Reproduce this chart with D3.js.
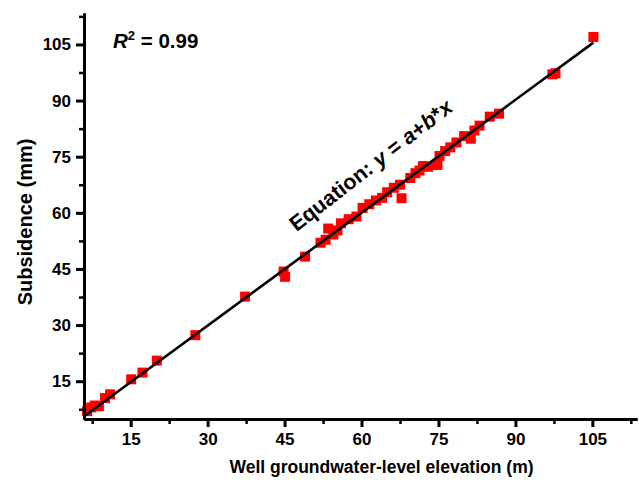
<!DOCTYPE html>
<html>
<head>
<meta charset="utf-8">
<script src="https://cdn.jsdelivr.net/npm/d3@7/dist/d3.min.js"></script>
<style>
  html, body { margin: 0; padding: 0; background: #fff; }
  svg { display: block; }
  text { font-family: "Liberation Sans", Arial, sans-serif; font-weight: bold; fill: #000; }
</style>
</head>
<body>
<script>
// ---- Data ----
const wellLevel = [6.5, 7.3, 8.0, 8.8, 10.0, 11.0, 15.1, 17.3, 20.1, 27.6, 37.3, 44.8, 45.1, 49.0,
  52.0, 53.0, 53.5, 54.5, 55.3, 56.0, 57.5, 59.0, 60.2, 61.5, 62.8, 64.0, 65.0, 66.3, 67.8, 67.5, 69.5,
  70.5, 71.3, 72.0, 73.0, 74.8, 75.2, 76.3, 77.3, 78.5, 80.0, 81.3, 82.0, 83.0, 85.0, 86.8, 97.2, 97.8, 105.2];
const subsidence = [7.0, 8.0, 8.5, 8.3, 10.5, 11.5, 15.5, 17.3, 20.5, 27.3, 37.6, 44.3, 42.9, 48.3,
  52.0, 52.8, 55.8, 54.2, 55.3, 57.2, 58.3, 59.0, 61.3, 62.3, 63.3, 64.0, 65.5, 66.7, 63.9, 67.5, 69.3,
  70.6, 71.3, 72.5, 72.3, 72.8, 75.2, 76.5, 77.5, 78.8, 80.5, 79.8, 82.0, 83.3, 85.7, 86.5, 97.0, 97.3, 107.0];
const fitA = -0.34, fitB = 1.006;
const fitRange = [6.0, 105.2];
const majorTicks = [15, 30, 45, 60, 75, 90, 105];
const minorTicks = [7.5, 22.5, 37.5, 52.5, 67.5, 82.5, 97.5, 112.5];
const xDomain = [5.9, 113.7];
const yDomain = [4.9, 113.4];
const xTitle = "Well groundwater-level elevation (m)";
const yTitle = "Subsidence (mm)";

const W = 639, H = 480;
const svg = d3.select("body").append("svg").attr("width", W).attr("height", H);

const x = d3.scaleLinear().domain(xDomain).range([84, 637]);
const y = d3.scaleLinear().domain(yDomain).range([419, 13]);

// points
const pts = wellLevel.map((v, i) => ({x: v, y: subsidence[i]}));
const ms = 10;
svg.append("g").selectAll("rect").data(pts).join("rect")
  .attr("x", d => x(d.x) - ms / 2).attr("y", d => y(d.y) - ms / 2)
  .attr("width", ms).attr("height", ms).attr("fill", "#ff0000");

// fit line
const fitPts = fitRange.map(v => [v, fitA + fitB * v]);
svg.append("path").attr("d", d3.line().x(d => x(d[0])).y(d => y(d[1]))(fitPts))
  .attr("stroke", "#000").attr("stroke-width", 2.6).attr("fill", "none");

// axes
function styleAxis(g, w) {
  g.selectAll("path.domain").attr("stroke", "#000").attr("stroke-width", 3);
  g.selectAll(".tick line").attr("stroke", "#000").attr("stroke-width", w);
  g.selectAll(".tick text").style("font-size", "17px").style("font-family", "'Liberation Sans', Arial, sans-serif").style("font-weight", "bold");
}
// minor
svg.append("g").attr("transform", "translate(0,419)")
  .call(d3.axisBottom(x).tickValues(minorTicks).tickSize(5).tickSizeOuter(0).tickFormat(""))
  .call(g => styleAxis(g, 2.5));
svg.append("g").attr("transform", "translate(84,0)")
  .call(d3.axisLeft(y).tickValues(minorTicks).tickSize(5).tickSizeOuter(0).tickFormat(""))
  .call(g => styleAxis(g, 2.5));
// major
svg.append("g").attr("transform", "translate(0,419)")
  .call(d3.axisBottom(x).tickValues(majorTicks).tickSize(8).tickPadding(6).tickSizeOuter(0))
  .call(g => styleAxis(g, 3));
svg.append("g").attr("transform", "translate(84,0)")
  .call(d3.axisLeft(y).tickValues(majorTicks).tickSize(8).tickPadding(5).tickSizeOuter(0))
  .call(g => styleAxis(g, 3));

// titles
svg.append("text").attr("x", 381.5).attr("y", 473).attr("text-anchor", "middle")
  .style("font-size", "17.5px").text(xTitle);
svg.append("text").attr("transform", "translate(32,222) rotate(-90)").attr("text-anchor", "middle")
  .style("font-size", "20px").text(yTitle);

// R^2
const r2 = svg.append("text").attr("x", 113).attr("y", 48).style("font-size", "20.5px");
r2.append("tspan").style("font-style", "italic").text("R");
r2.append("tspan").attr("dy", -8).style("font-size", "13px").text("2");
r2.append("tspan").attr("dy", 8).text(" = 0.99");

// equation
const ang = -Math.atan(fitB * (y(0) - y(1)) / (x(1) - x(0))) * 180 / Math.PI - 1.5;
const eq = svg.append("text")
  .attr("transform", `translate(${x(47.3)},${y(54.8)}) rotate(${ang})`)
  .style("font-size", "21.5px");
eq.append("tspan").text("Equation: ");
eq.append("tspan").style("font-style", "italic").text("y");
eq.append("tspan").text(" = ");
eq.append("tspan").style("font-style", "italic").text("a");
eq.append("tspan").text("+");
eq.append("tspan").style("font-style", "italic").text("b");
eq.append("tspan").text("*");
eq.append("tspan").style("font-style", "italic").text("x");
</script>
</body>
</html>
